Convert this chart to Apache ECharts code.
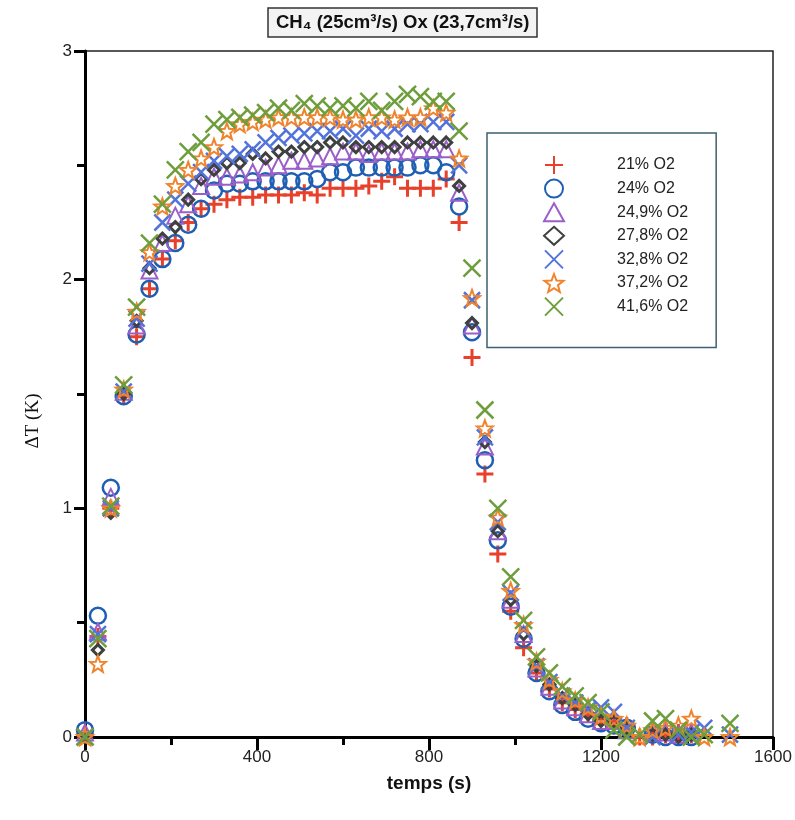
<!DOCTYPE html>
<html><head><meta charset="utf-8">
<script src="https://cdn.jsdelivr.net/npm/echarts@6/dist/echarts.min.js"></script>
<style>html,body{margin:0;padding:0;background:#fff}#c{width:795px;height:820px}</style>
</head><body><div id="c"></div>
<script>
const times = [0,30,60,90,120,150,180,210,240,270,300,330,360,390,420,450,480,510,540,570,600,630,660,690,720,750,780,810,840,870,900,930,960,990,1020,1050,1080,1110,1140,1170,1200,1230,1260,1290,1320,1350,1380,1410,1440,1500];
const seriesNames = ['21% O2','24% O2','24,9% O2','27,8% O2','32,8% O2','37,2% O2','41,6% O2'];
const o21 = [0.01,0.44,1.00,1.49,1.75,1.96,2.09,2.17,2.25,2.31, 2.33,2.35,2.36,2.36,2.37,2.37,2.37,2.38,2.37,2.40, 2.40,2.40,2.41,2.43,2.45,2.40,2.40,2.40,2.44,2.25, 1.66,1.15,0.80,0.55,0.39,0.28,0.21,0.15,0.12,0.10, 0.08,0.07,0.05,0.00,0.00,0.01,0.02,0.01,-0.01,-0.01];
const o24 = [0.03,0.53,1.09,1.49,1.76,1.96,2.09,2.16,2.24,2.31, 2.39,2.42,2.42,2.43,2.43,2.43,2.43,2.43,2.44,2.47, 2.47,2.49,2.49,2.49,2.49,2.49,2.50,2.50,2.47,2.32, 1.77,1.21,0.86,0.57,0.43,0.28,0.20,0.14,0.11,0.08, 0.06,0.05,0.04,-0.01,0.01,0.00,0.00,0.00,-0.05,-0.05];
const o249 = [0.02,0.46,1.05,1.51,1.80,2.04,2.16,2.28,2.33,2.41, 2.45,2.45,2.46,2.47,2.49,2.50,2.52,2.52,2.53,2.54, 2.56,2.56,2.55,2.56,2.56,2.56,2.57,2.57,2.57,2.38, 1.80,1.27,0.90,0.60,0.45,0.30,0.22,0.16,0.13,0.10, 0.07,0.07,0.03,-0.01,0.02,0.02,0.01,0.02,-0.02,-0.01];
const o278 = [0.00,0.38,0.98,1.50,1.82,2.05,2.18,2.23,2.35,2.44, 2.48,2.51,2.51,2.55,2.53,2.56,2.56,2.58,2.58,2.60, 2.60,2.58,2.58,2.58,2.58,2.60,2.60,2.60,2.60,2.41, 1.81,1.29,0.90,0.60,0.45,0.31,0.23,0.17,0.14,0.10, 0.07,0.07,0.04,-0.01,0.01,0.01,0.00,0.01,-0.01,-0.02];
const o328 = [0.00,0.45,1.00,1.51,1.83,2.07,2.25,2.35,2.42,2.47, 2.52,2.54,2.55,2.57,2.60,2.62,2.63,2.64,2.65,2.65, 2.66,2.63,2.66,2.65,2.66,2.68,2.68,2.69,2.69,2.50, 1.91,1.31,0.94,0.63,0.47,0.31,0.24,0.18,0.15,0.12, 0.13,0.11,0.04,-0.03,0.00,-0.03,0.01,0.02,0.04,0.01];
const o372 = [0.00,0.32,1.00,1.52,1.86,2.12,2.32,2.41,2.48,2.53, 2.58,2.65,2.68,2.69,2.70,2.71,2.71,2.71,2.71,2.71, 2.70,2.70,2.71,2.71,2.70,2.71,2.71,2.75,2.73,2.53, 1.92,1.35,0.96,0.64,0.49,0.33,0.25,0.20,0.16,0.13, 0.09,0.08,0.05,0.00,0.03,0.04,0.05,0.08,0.00,0.00];
const o416 = [0.00,0.43,1.01,1.54,1.88,2.16,2.33,2.48,2.56,2.60, 2.68,2.70,2.71,2.72,2.73,2.75,2.74,2.77,2.76,2.75, 2.76,2.75,2.78,2.74,2.78,2.81,2.80,2.78,2.78,2.65, 2.05,1.43,1.00,0.70,0.51,0.35,0.28,0.22,0.18,0.15, 0.11,0.03,0.00,0.01,0.07,0.08,0.03,0.00,0.01,0.06];
const xTicks = [0,400,800,1200,1600];
const yTicks = [0,1,2,3];

const PLUS = 'path://M0,5L10,5M5,0L5,10';
const CROSS = 'path://M0,0L10,10M10,0L0,10';
const STAR = 'path://M10,0L12.47,6.6L19.51,6.91L13.99,11.3L15.88,18.09L10,14.2L4.12,18.09L6.01,11.3L0.49,6.91L7.53,6.6Z';
const styles = [
  {vals:o21, color:'#e8402a', symbol:PLUS, size:17, bw:3},
  {vals:o24, color:'#1f5fb3', symbol:'circle', size:16, bw:2.5},
  {vals:o249, color:'#9a5fc8', symbol:'triangle', size:16, bw:2},
  {vals:o278, color:'#3f4040', symbol:'diamond', size:11, bw:3},
  {vals:o328, color:'#5273db', symbol:CROSS, size:16, bw:2.5},
  {vals:o372, color:'#f0842c', symbol:STAR, size:16, bw:2},
  {vals:o416, color:'#6e9e3c', symbol:CROSS, size:17, bw:2.5}
];
const series = styles.map((s,k)=>({
  name: seriesNames[k], type:'scatter', symbol:s.symbol, symbolSize:s.size,
  itemStyle:{color:'rgba(255,255,255,0)', borderColor:s.color, borderWidth:s.bw, opacity:1},
  emphasis:{disabled:true},
  data: times.map((t,i)=>[t, s.vals[i]])
}));

const chart = echarts.init(document.getElementById('c'), null, {renderer:'canvas'});
chart.setOption({
  animation:false,
  backgroundColor:'#fff',
  title:{
    text:'CH\u2084 (25cm\u00b3/s) Ox (23,7cm\u00b3/s)',
    left:268, top:8,
    padding:[5,8,5,8],
    borderWidth:1.5, borderColor:'#333', backgroundColor:'#f3f3f3',
    textStyle:{fontFamily:'Liberation Sans, Arial', fontSize:18.5, fontWeight:'bold', color:'#111'}
  },
  legend:{
    orient:'vertical', left:487, top:133,
    padding:[22,28,31,56], itemGap:3.6, itemWidth:20, itemHeight:18,
    borderColor:'#3d6070', borderWidth:1.5, backgroundColor:'#fff',
    textStyle:{fontFamily:'Liberation Sans, Arial', fontSize:16, color:'#222', padding:[0,0,0,48], lineHeight:18},
    data: seriesNames
  },
  grid:{left:85, right:22, top:51, bottom:83, show:true, borderColor:'#222', borderWidth:1.5, backgroundColor:'rgba(0,0,0,0)'},
  xAxis:{
    type:'value', min:0, max:1600, interval:400,
    name:'temps (s)', nameLocation:'middle', nameGap:37,
    nameTextStyle:{fontFamily:'Liberation Sans, Arial', fontSize:19, fontWeight:'bold', color:'#111'},
    axisLine:{show:true, onZero:false, lineStyle:{color:'#000', width:3}},
    axisTick:{show:true, length:13, lineStyle:{color:'#000', width:3}},
    minorTick:{show:true, splitNumber:2, length:8, lineStyle:{color:'#000', width:3}},
    axisLabel:{fontFamily:'Liberation Sans, Arial', fontSize:17, color:'#222', margin:12,
      formatter:v=> xTicks.includes(v) ? String(v) : ''},
    splitLine:{show:false}
  },
  yAxis:{
    type:'value', min:0, max:3, interval:1,
    name:'\u0394T (K)', nameLocation:'middle', nameGap:42, nameRotate:90,
    nameTextStyle:{fontFamily:'Liberation Serif, Times New Roman', fontSize:19, color:'#111', padding:[0,54,0,0]},
    axisLine:{show:true, onZero:false, lineStyle:{color:'#000', width:3}},
    axisTick:{show:true, length:11, lineStyle:{color:'#000', width:3}},
    minorTick:{show:true, splitNumber:2, length:8, lineStyle:{color:'#000', width:3}},
    axisLabel:{fontFamily:'Liberation Sans, Arial', fontSize:17, color:'#222', margin:13,
      formatter:v=> yTicks.includes(v) ? String(v) : ''},
    splitLine:{show:false}
  },
  series: series
});
</script>
</body></html>
